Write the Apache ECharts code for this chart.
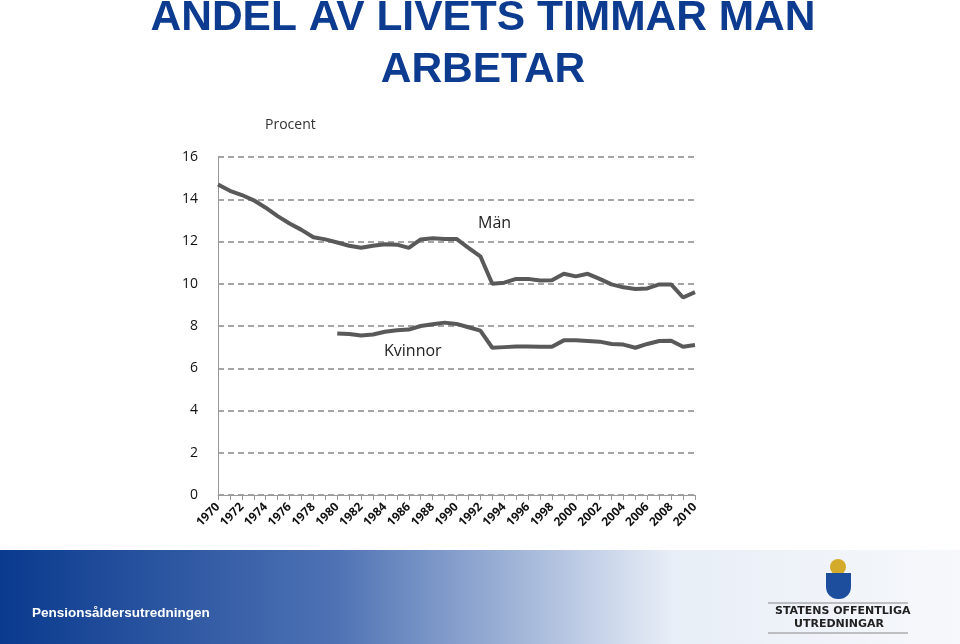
<!DOCTYPE html>
<html lang="sv">
<head>
<meta charset="UTF-8">
<title>Andel av livets timmar man arbetar</title>
<script src="https://cdn.jsdelivr.net/npm/echarts@6/dist/echarts.min.js"></script>
<style>
  body{margin:0;background:#fff}
  #main{width:960px;height:644px}
</style>
</head>
<body>
<div id="main"></div>
<script>
var years = [];
for (var y = 1970; y <= 2010; y++) years.push(String(y));

var man = [14.7,14.4,14.2,13.95,13.6,13.2,12.85,12.55,12.2,12.1,
  11.95,11.8,11.7,11.8,11.87,11.85,11.7,12.1,12.15,12.12,
  12.12,11.7,11.3,10.0,10.05,10.23,10.23,10.15,10.17,10.47,
  10.35,10.47,10.23,9.97,9.83,9.75,9.78,9.97,9.97,9.35,9.6];

var kvinnor = ['-','-','-','-','-','-','-','-','-','-',
  7.65,7.62,7.55,7.6,7.73,7.8,7.83,8.0,8.08,8.16,
  8.1,7.94,7.78,6.97,7.0,7.03,7.03,7.02,7.02,7.32,
  7.32,7.29,7.26,7.15,7.12,6.97,7.15,7.29,7.3,7.02,7.1];

var chart = echarts.init(document.getElementById('main'));
var lineStyle = { color: '#595959', width: 4 };

chart.setOption({
  backgroundColor: '#fff',
  animation: false,
  grid: { left: 218, right: 265, top: 157, bottom: 149 },
  graphic: [
    { type: 'rect', silent: true, z: -1, shape: { x: 0, y: 550, width: 960, height: 94 },
      style: { fill: new echarts.graphic.LinearGradient(0, 0, 1, 0, [
        { offset: 0, color: '#0a3a8e' }, { offset: 0.35, color: '#4e72b4' },
        { offset: 0.7, color: '#e8eef7' }, { offset: 1, color: '#f6f8fb' }]) } },
    { type: 'text', x: 483, y: -8,
      style: { text: 'ANDEL AV LIVETS TIMMAR MAN\nARBETAR', fill: '#0d3b8f', textAlign: 'center',
        font: 'bold 42.5px "Liberation Sans", Arial', lineHeight: 52 } },
    { type: 'text', left: 265, top: 118, style: { text: 'Procent', fill: '#333', font: '14px "Open Sans"' } },
    { type: 'text', left: 478, top: 215, style: { text: 'Män', fill: '#222', font: '16px "Open Sans"' } },
    { type: 'text', left: 384, top: 343, style: { text: 'Kvinnor', fill: '#222', font: '16px "Open Sans"' } },
    { type: 'text', left: 32, top: 606, style: { text: 'Pensionsåldersutredningen', fill: '#fff',
        font: 'bold 13.5px "Liberation Sans", Arial' } },
    { type: 'circle', shape: { cx: 838, cy: 567, r: 8 }, style: { fill: '#d4aa2a' } },
    { type: 'rect', shape: { x: 826, y: 573, width: 25, height: 26, r: [0, 0, 12, 12] }, style: { fill: '#1d4e9e' } },
    { type: 'line', shape: { x1: 768, y1: 603, x2: 908, y2: 603 }, style: { stroke: '#888', lineWidth: 1 } },
    { type: 'text', left: 775, top: 606, style: { text: 'STATENS OFFENTLIGA', fill: '#222', font: 'bold 11px "DejaVu Sans"' } },
    { type: 'text', left: 794, top: 619, style: { text: 'UTREDNINGAR', fill: '#222', font: 'bold 11px "DejaVu Sans"' } },
    { type: 'line', shape: { x1: 768, y1: 633, x2: 908, y2: 633 }, style: { stroke: '#888', lineWidth: 1 } }
  ],
  xAxis: {
    type: 'category', data: years, boundaryGap: false,
    axisLine: { lineStyle: { color: '#999' } },
    axisTick: { show: true, interval: 0, lineStyle: { color: '#999' } },
    axisLabel: { interval: 1, rotate: 45, color: '#111', fontSize: 12, fontWeight: 'bold',
      fontFamily: 'Open Sans', margin: 10 }
  },
  yAxis: {
    type: 'value', min: 0, max: 16, interval: 2,
    axisLine: { show: true, lineStyle: { color: '#999' } },
    axisLabel: { color: '#111', fontSize: 14, fontFamily: 'Open Sans', margin: 20 },
    splitLine: { lineStyle: { color: '#888', type: [6, 4], width: 1.5 } }
  },
  series: [
    { name: 'Män', type: 'line', data: man, symbol: 'none', lineStyle: lineStyle, itemStyle: { color: '#595959' } },
    { name: 'Kvinnor', type: 'line', data: kvinnor, symbol: 'none', lineStyle: lineStyle, itemStyle: { color: '#595959' } }
  ]
});
</script>
</body>
</html>
